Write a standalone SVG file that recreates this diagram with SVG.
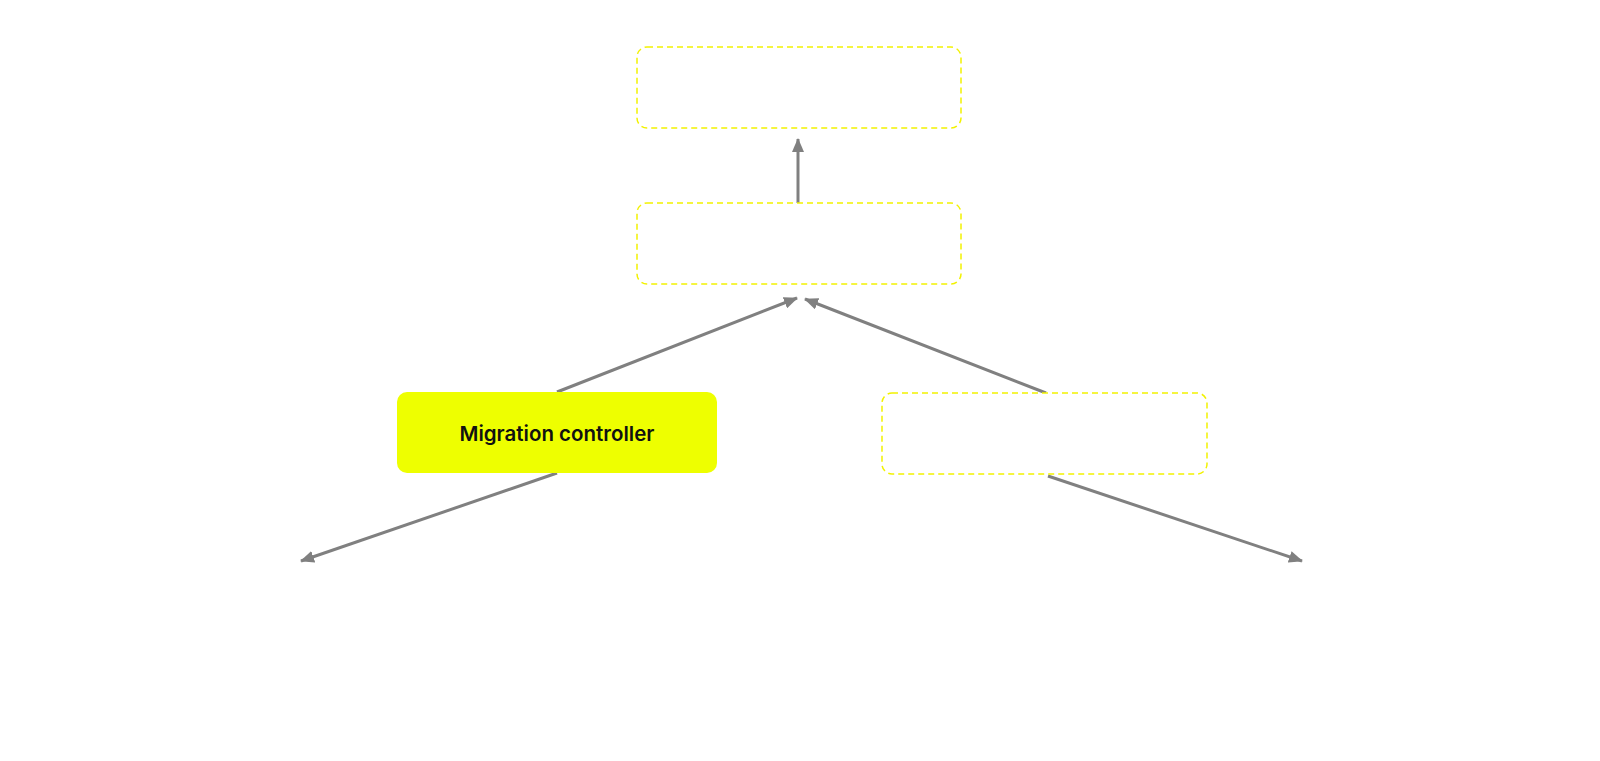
<svg xmlns="http://www.w3.org/2000/svg" width="1600" height="761" viewBox="0 0 1600 761">
<style>
.ghost{fill:#ffffff;stroke:#f2f200;stroke-width:1.5;stroke-dasharray:6 4}
.solid{fill:#eeff00;stroke:none}
.lbl{font-family:Inter,"Liberation Sans",sans-serif;font-weight:600;font-size:20.5px;fill:#111111;text-anchor:middle;dominant-baseline:central}
.edge{stroke:#808080;stroke-width:3;fill:none}
</style>
<defs>
<marker id="ah" viewBox="0 0 14 12" refX="13" refY="6" markerWidth="14" markerHeight="12" markerUnits="userSpaceOnUse" orient="auto">
<path d="M0,0 L14,6 L0,12 z" fill="#808080"/>
</marker>
</defs>
<rect width="1600" height="761" fill="#ffffff"/>
<g id="connectors">
<line class="edge" x1="798" y1="203" x2="798" y2="139" marker-end="url(#ah)"/>
<line class="edge" x1="557" y1="392" x2="797" y2="298" marker-end="url(#ah)"/>
<line class="edge" x1="1046" y1="393" x2="805" y2="299" marker-end="url(#ah)"/>
<line class="edge" x1="557" y1="473" x2="301" y2="561" marker-end="url(#ah)"/>
<line class="edge" x1="1048" y1="476" x2="1302" y2="561" marker-end="url(#ah)"/>
</g>
<g id="node-top">
<rect class="ghost" x="637" y="47" width="324" height="81" rx="10"/>
</g>
<g id="node-middle">
<rect class="ghost" x="637" y="203" width="324" height="81" rx="10"/>
</g>
<g id="node-right">
<rect class="ghost" x="882" y="393" width="325" height="81" rx="10"/>
</g>
<g id="node-migration-controller">
<rect class="solid" x="397" y="392" width="320" height="81" rx="10"/>
<text class="lbl" x="557" y="433">Migration controller</text>
</g>
</svg>
